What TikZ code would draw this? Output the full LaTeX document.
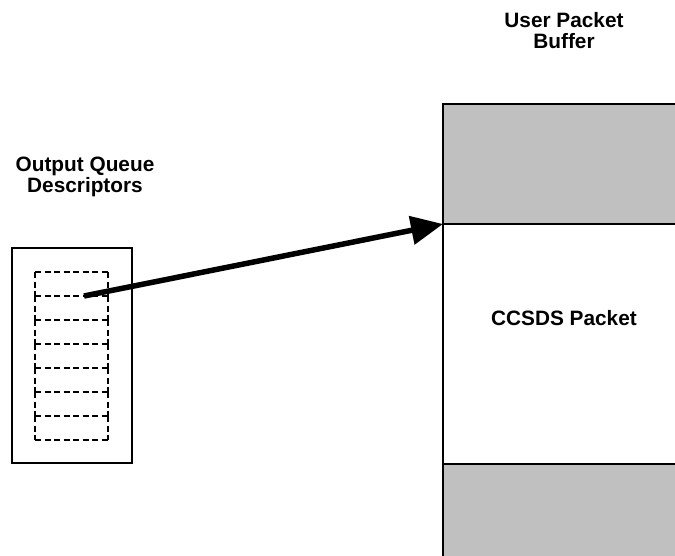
\documentclass[tikz,border=0pt]{standalone}
\usepackage{fontspec}
\setmainfont{Liberation Sans}
\usetikzlibrary{arrows.meta}
\definecolor{bufgray}{HTML}{C0C0C0}
\begin{document}
\begin{tikzpicture}[x=1pt,y=-1pt,
  lbl/.style={font=\fontsize{20.8}{21}\selectfont\bfseries, align=center, inner sep=0pt},
  outerbox/.style={draw, line width=1.8pt, inner sep=0pt, outer sep=0pt, anchor=north west, minimum width=120pt, minimum height=215pt},
  slot/.style={inner sep=0pt, outer sep=0pt, anchor=north west, minimum width=73pt, minimum height=24pt},
  dashline/.style={dash pattern=on 6pt off 3.5pt, line width=1.8pt},
  bufpart/.style={draw, line width=2pt, inner sep=0pt, outer sep=0pt, anchor=north west, minimum width=242pt},
  bigarrow/.style={line width=5.5pt, -{Triangle[length=32pt,width=28pt]}}
]
\useasboundingbox (0,0) rectangle (675,555);
% buffer
\node[bufpart, fill=bufgray, minimum height=120pt] (hdr) at (443,104) {};
\node[bufpart, fill=white, minimum height=240pt] (pkt) at (443,224) {};
\node[bufpart, fill=bufgray, minimum height=110pt] (tail) at (443,464) {};
% queue descriptors
\node[outerbox] (queue) at (12,248) {};
\foreach \i in {0,...,6}{
  \node[slot] (slot\i) at (35,{272+24*\i}) {};
  \draw[dashline] (slot\i.north west) -- (slot\i.north east);
  \draw[dashline] (slot\i.north west) -- (slot\i.south west);
  \draw[dashline] (slot\i.north east) -- (slot\i.south east);
}
\draw[dashline] (slot6.south west) -- (slot6.south east);
% labels
\node[lbl] (qlabel) at (85,177) {Output Queue\\Descriptors};
\node[lbl] (blabel) at (564,31) {User Packet\\Buffer};
\node[lbl, anchor=base] (plabel) at (564,325) {CCSDS Packet};
% arrow
\coordinate (src) at (84,296);
\draw[bigarrow] (src) -- (pkt.north west);
\end{tikzpicture}
\end{document}
